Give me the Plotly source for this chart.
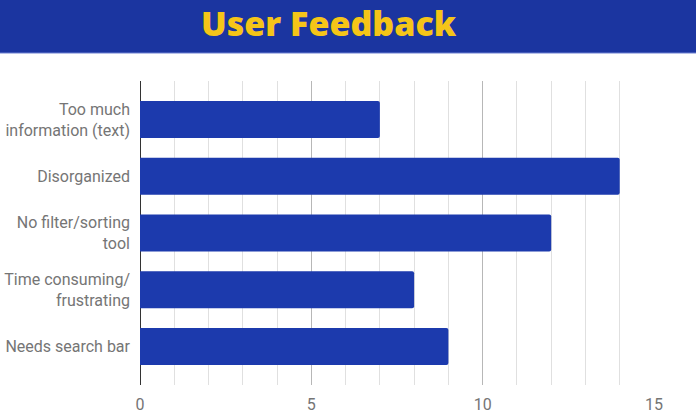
import plotly.graph_objects as go

categories = ["Too much<br>information (text)", "Disorganized", "No filter/sorting<br>tool",
              "Time consuming/<br>frustrating", "Needs search bar"]
values = [7, 14, 12, 8, 9]
x_ticks = [0, 5, 10, 15]
title_text = "User Feedback"

fig = go.Figure(go.Bar(
    x=values, y=categories, orientation="h",
    marker=dict(color="#1c3aad", line=dict(width=0), cornerradius=2),
    hoverinfo="x+y",
))

L, R, T, B = 140, 42, 81, 35
W, H = 696, 420
pw = W - L - R
ph = H - T - B

fig.update_layout(
    width=W, height=H,
    margin=dict(l=L, r=R, t=T, b=B, autoexpand=False),
    paper_bgcolor="white", plot_bgcolor="white",
    bargap=0.348,
    showlegend=False,
    font=dict(family="Roboto", color="#757575", size=16),
    xaxis=dict(
        range=[0, 15], tickvals=x_ticks, showgrid=True, gridcolor="#b7b7b7", gridwidth=1,
        minor=dict(dtick=1, showgrid=True, gridcolor="#e0e0e0", gridwidth=1),
        zeroline=True, zerolinecolor="#333333", zerolinewidth=1,
        showline=False, ticks="", ticklabelstandoff=8, automargin=False,
        tickfont=dict(size=16, color="#757575"),
    ),
    yaxis=dict(
        type="category", range=[4.68, -0.68], showgrid=False, zeroline=False,
        showline=False, ticks="", ticklabelstandoff=9, automargin=False,
        tickfont=dict(size=16, color="#757575"),
    ),
    shapes=[
        dict(type="rect", xref="paper", yref="paper", layer="above",
             x0=-L / pw, x1=(W - L) / pw,
             y0=1 + (T - 53) / ph, y1=1 + T / ph,
             fillcolor="#1b35a0", line=dict(width=0)),
        dict(type="line", xref="paper", yref="paper",
             x0=-L / pw, x1=(W - L) / pw,
             y0=1 + (T - 53) / ph, y1=1 + (T - 53) / ph,
             line=dict(color="#6d80d2", width=1)),
    ],
    annotations=[
        dict(text=title_text, xref="paper", yref="paper",
             x=(329 - L) / pw, y=1 + (T - 23) / ph,
             xanchor="center", yanchor="middle", showarrow=False,
             font=dict(family="Open Sans", size=34, color="#f5c518", weight=800)),
    ],
)

fig.write_html("out.html", config={"displayModeBar": False},
               post_script="document.body.style.margin='0';")
